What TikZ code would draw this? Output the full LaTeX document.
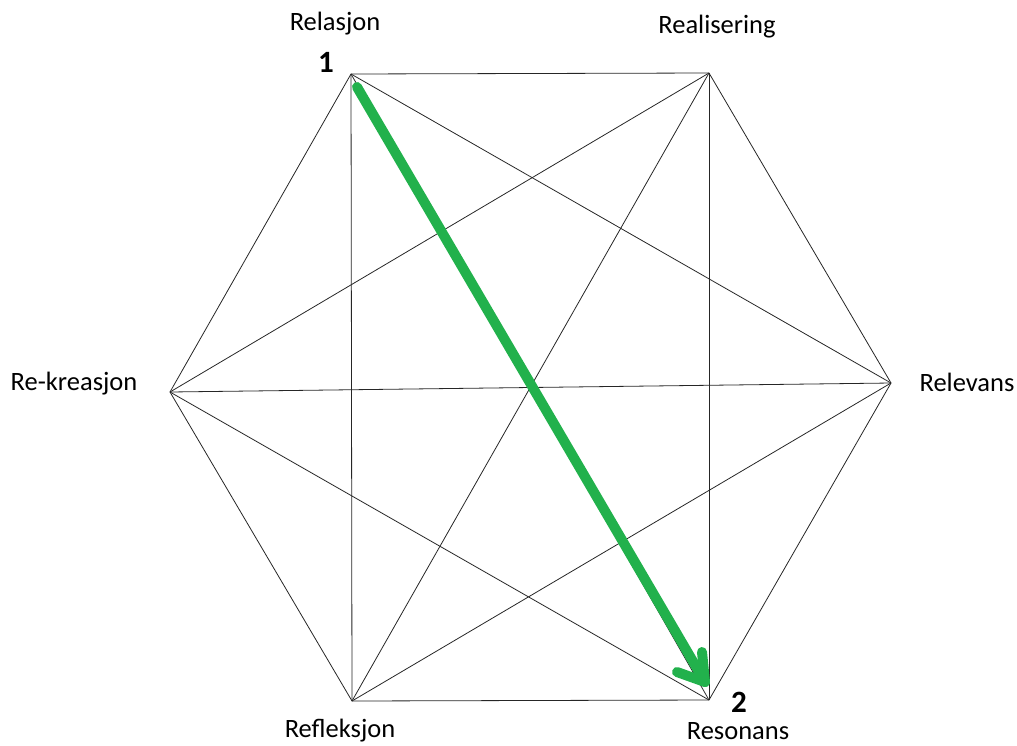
\documentclass[tikz,border=0pt]{standalone}
\usepackage{fontspec}
\setmainfont{Carlito}
\definecolor{paintgreen}{RGB}{34,177,76}
\begin{document}
\begin{tikzpicture}[x=1pt,y=-1pt,
  edge/.style={line width=0.8pt,black!85},
  lab/.style={font=\fontsize{26.5}{30}\selectfont,inner sep=0pt},
  num/.style={font=\bfseries\fontsize{31}{35}\selectfont,inner sep=0pt},
  greenline/.style={paintgreen,line width=10pt,line cap=round,line join=round}]
\useasboundingbox (0,0) rectangle (1017,745);
\coordinate (TL) at (351,74);
\coordinate (TR) at (709,73);
\coordinate (R) at (891,383);
\coordinate (BR) at (709,700);
\coordinate (BL) at (352,701);
\coordinate (L) at (170,392);
% hexagon
\draw[edge] (TL) -- (TR) -- (R) -- (BR) -- (BL) -- (L) -- cycle;
% diagonals
\draw[edge] (TL) -- (BL);
\draw[edge] (TR) -- (BR);
\draw[edge] (TL) -- (R);
\draw[edge] (TL) -- (BR);
\draw[edge] (TR) -- (L);
\draw[edge] (TR) -- (BL);
\draw[edge] (L) -- (R);
\draw[edge] (L) -- (BR);
\draw[edge] (R) -- (BL);
% labels
\node[lab] (relasjon) at (335,24) {Relasjon};
\node[num] (one) at (326,62) {1};
\node[lab] (realisering) at (717,27) {Realisering};
\node[lab] (rekreasjon) at (74,384) {Re-kreasjon};
\node[lab] (relevans) at (967,382) {Relevans};
\node[lab] (refleksjon) at (340,731) {Refleksjon};
\node[num] (two) at (739,702) {2};
\node[lab] (resonans) at (738,731) {Resonans};
% green arrow
\coordinate (gs) at (357,87);
\coordinate (gt) at (705,682);
\coordinate (gw1) at (677,672);
\coordinate (gw2) at (702,652);
\draw[greenline] (gs) -- (gt);
\draw[greenline] (gw1) -- (gt) -- (gw2);
\end{tikzpicture}
\end{document}
